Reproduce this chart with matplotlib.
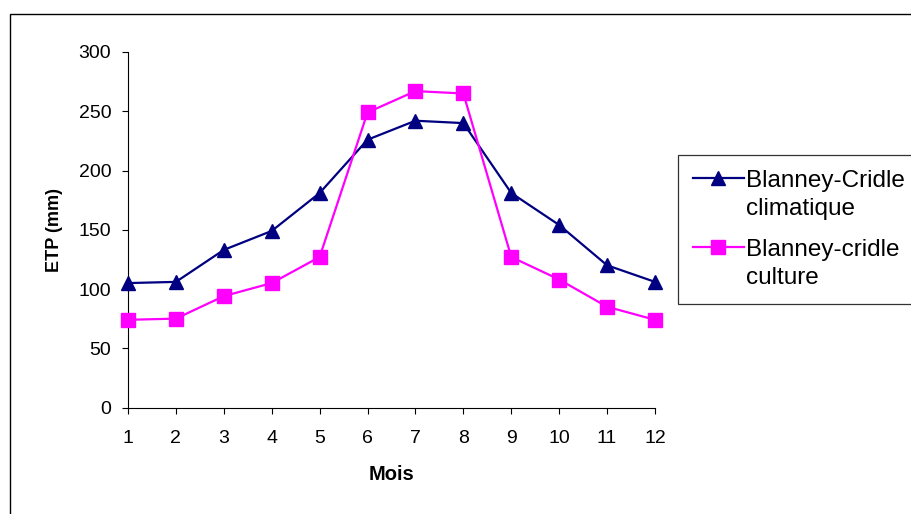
import numpy as np
import matplotlib
matplotlib.use("Agg")
import matplotlib.pyplot as plt
from matplotlib.patches import Rectangle

# ---- data ----
months = [1, 2, 3, 4, 5, 6, 7, 8, 9, 10, 11, 12]
bc_climatique = [105, 106, 133, 149, 181, 226, 242, 240, 181, 154, 120, 106]
bc_culture = [74, 75, 94, 105, 127, 249, 267, 265, 127, 108, 85, 74]
series_labels = ["Blanney-Cridle\nclimatique", "Blanney-cridle\nculture"]
y_ticks = [0, 50, 100, 150, 200, 250, 300]
x_label = "Mois"
y_label = "ETP (mm)"

plt.rcParams['font.family'] = ['Liberation Sans', 'DejaVu Sans']

W, H = 911, 514
fig = plt.figure(figsize=(W / 100, H / 100), dpi=100)
fig.patch.set_facecolor('white')

# outer chart frame (extends beyond right and bottom edges)
fig.patches.append(Rectangle((10 / W, -0.2), 2.0, (1 - 14 / H) + 0.2,
                             transform=fig.transFigure, fill=False,
                             edgecolor='black', linewidth=1.0, zorder=0))

ax = fig.add_axes([128 / W, 1 - 407.5 / H, (655 - 128) / W, (407.5 - 52) / H])
ax.set_facecolor('none')

ax.plot(months, bc_climatique, color='#000080', linewidth=1.6, marker='^',
        markersize=10.5, markerfacecolor='#000080', markeredgecolor='#000080',
        clip_on=False, zorder=3, label=series_labels[0])
ax.plot(months, bc_culture, color='#FF00FF', linewidth=1.6, marker='s',
        markersize=10, markerfacecolor='#FF00FF', markeredgecolor='#FF00FF',
        clip_on=False, zorder=4, label=series_labels[1])

ax.set_xlim(1, 12)
ax.set_ylim(0, 300)
ax.set_xticks(months)
ax.set_xticklabels([str(m) for m in months])
ax.set_yticks(y_ticks)
ax.set_yticklabels([str(v) for v in y_ticks])

for s in ['top', 'right']:
    ax.spines[s].set_visible(False)
for s in ['left', 'bottom']:
    ax.spines[s].set_linewidth(0.8)
    ax.spines[s].set_color('black')

ax.tick_params(axis='both', direction='out', length=4.5, width=0.8,
               colors='black', labelsize=14)
ax.tick_params(axis='x', pad=11.5)
ax.tick_params(axis='y', pad=7.5)

ax.set_xlabel(x_label, fontsize=14.5, fontweight='bold', labelpad=13)
ax.set_ylabel(y_label, fontsize=13, fontweight='bold', labelpad=11)

leg = ax.legend(loc='upper left', bbox_to_anchor=(678 / W, 1 - 155 / H),
                bbox_transform=fig.transFigure, borderaxespad=0,
                fontsize=17.5, frameon=True, fancybox=False,
                edgecolor='black', handlelength=2.1, handletextpad=0.1,
                borderpad=0.6, labelspacing=0.75)
leg.get_frame().set_linewidth(0.9)
for t in leg.get_texts():
    t.set_linespacing(1.4)
# align each legend symbol with the first line of its label
for h in leg.legend_handles:
    yd = np.asarray(h.get_ydata(), dtype=float)
    h.set_ydata(yd + 12)

fig.savefig('out.png', dpi=100, facecolor='white')
